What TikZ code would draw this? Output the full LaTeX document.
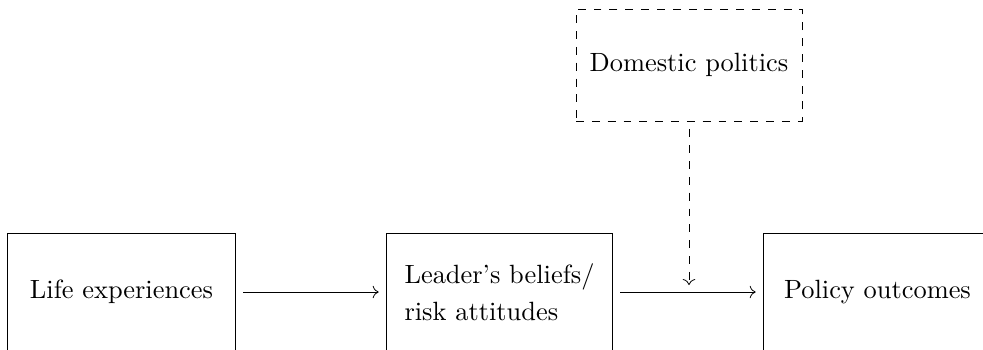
\documentclass[tikz,border=0pt]{standalone}
\usetikzlibrary{arrows.meta}
\begin{document}
\begin{tikzpicture}[x=0.3788pt,y=-0.3788pt,line width=0.3pt,
  box/.style={rectangle,minimum width=227*0.3788pt,minimum height=116*0.3788pt,inner sep=0pt,align=left},
  dbox/.style={draw,dashed,rectangle,minimum width=226*0.3788pt,minimum height=112*0.3788pt,inner sep=0pt},
  conn/.style={->,shorten <=3pt,shorten >=3pt}]
\useasboundingbox (0,0) rectangle (983,349);
\clip (0,0) rectangle (983,349);
\node[box] (life) at (121.5,292) {Life experiences};
\node[box,minimum width=225*0.3788pt] (lead) at (499.5,292) {Leader's beliefs/\\[2pt]risk attitudes};
\node[box] (pol) at (877.5,292) {Policy outcomes};
\node[dbox] (dom) at (689,65) {Domestic politics};
\draw (life.south west) -- (life.north west) -- (life.north east) -- (life.south east);
\draw (lead.south west) -- (lead.north west) -- (lead.north east) -- (lead.south east);
\draw (pol.south west) -- (pol.north west) -- (pol.north east);
\coordinate (dtip) at (689,285);
\draw[conn] (life) -- (lead);
\draw[conn] (lead) -- (pol);
\draw[->,dashed,shorten <=3pt] (dom) -- (dtip);
\end{tikzpicture}
\end{document}
